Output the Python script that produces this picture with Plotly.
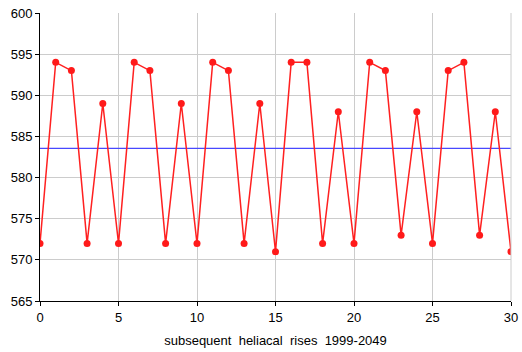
import plotly.graph_objects as go

x_vals = list(range(31))
rises = [572, 594, 593, 572, 589, 572, 594, 593, 572, 589, 572, 594, 593, 572, 589, 571,
         594, 594, 572, 588, 572, 594, 593, 573, 588, 572, 593, 594, 573, 588, 571]
mean_val = 583.55
x_title = "subsequent  heliacal  rises  1999-2049"

fig = go.Figure()
fig.add_trace(go.Scatter(x=[0, 30], y=[mean_val, mean_val], mode="lines",
                         line=dict(color="#4848ff", width=1.2), hoverinfo="skip"))
fig.add_trace(go.Scatter(x=x_vals, y=rises, mode="lines+markers",
                         line=dict(color="#ff2020", width=1.5),
                         marker=dict(color="#ff1a1a", size=7)))

fig.update_layout(
    width=522, height=352,
    margin=dict(l=40, r=11, t=13, b=51),
    plot_bgcolor="white", paper_bgcolor="white",
    showlegend=False,
    font=dict(family="Liberation Sans, Arial, sans-serif", size=13, color="black"),
)
fig.update_xaxes(range=[0, 30], tickvals=[0, 5, 10, 15, 20, 25, 30],
                 showgrid=True, gridcolor="#cccccc", gridwidth=1,
                 showline=True, linecolor="black", linewidth=1,
                 ticks="outside", ticklen=4, tickcolor="black",
                 zeroline=False, automargin=False,
                 title=dict(text=x_title, font=dict(size=13), standoff=12))
fig.update_yaxes(range=[565, 600], tickvals=[565, 570, 575, 580, 585, 590, 595, 600],
                 showgrid=True, gridcolor="#cccccc", gridwidth=1,
                 showline=True, linecolor="black", linewidth=1,
                 ticks="outside", ticklen=4, tickcolor="black",
                 zeroline=False, automargin=False)
# right border as grid-like line
fig.add_shape(type="line", xref="paper", yref="paper", x0=1, x1=1, y0=0, y1=1,
              line=dict(color="#cccccc", width=1))

fig.write_html("out.html")
